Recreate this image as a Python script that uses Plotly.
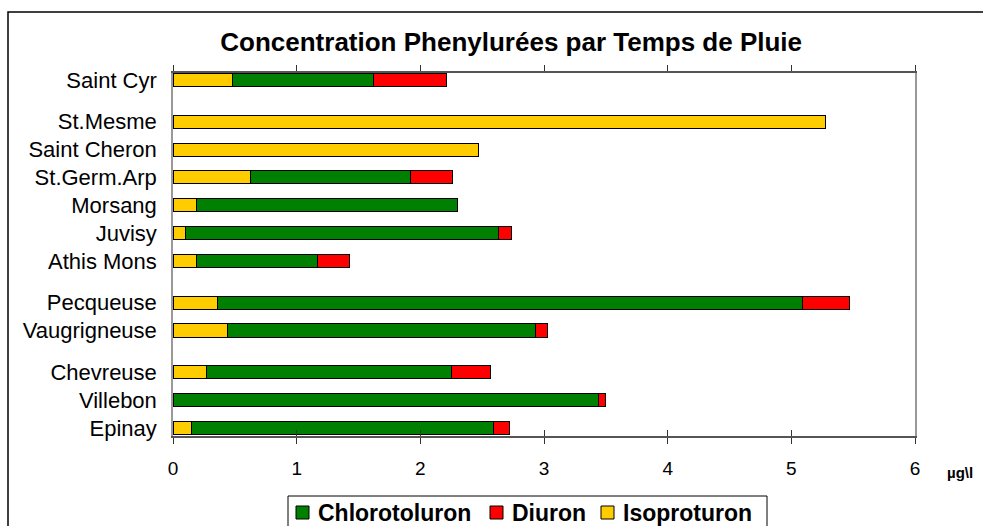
import plotly.graph_objects as go

# Data (groups from bottom to top; a half-gap separates groups)
groups = [
    ["Epinay", "Villebon", "Chevreuse"],
    ["Vaugrigneuse", "Pecqueuse"],
    ["Athis Mons", "Juvisy", "Morsang", "St.Germ.Arp", "Saint Cheron", "St.Mesme"],
    ["Saint Cyr"],
]
sites = [s for g in groups for s in g]

isoproturon = {
    "Epinay": 0.15, "Villebon": 0.0, "Chevreuse": 0.27,
    "Vaugrigneuse": 0.44, "Pecqueuse": 0.36,
    "Athis Mons": 0.19, "Juvisy": 0.10, "Morsang": 0.19, "St.Germ.Arp": 0.63,
    "Saint Cheron": 2.47, "St.Mesme": 5.28, "Saint Cyr": 0.48,
}
chlorotoluron = {
    "Epinay": 2.44, "Villebon": 3.44, "Chevreuse": 1.98,
    "Vaugrigneuse": 2.49, "Pecqueuse": 4.73,
    "Athis Mons": 0.98, "Juvisy": 2.53, "Morsang": 2.11, "St.Germ.Arp": 1.29,
    "Saint Cheron": 0.0, "St.Mesme": 0.0, "Saint Cyr": 1.145,
}
diuron = {
    "Epinay": 0.13, "Villebon": 0.06, "Chevreuse": 0.32,
    "Vaugrigneuse": 0.10, "Pecqueuse": 0.38,
    "Athis Mons": 0.26, "Juvisy": 0.11, "Morsang": 0.0, "St.Germ.Arp": 0.34,
    "Saint Cheron": 0.0, "St.Mesme": 0.0, "Saint Cyr": 0.585,
}
x_ticks = [0, 1, 2, 3, 4, 5, 6]
legend_order = ["Chlorotoluron", "Diuron", "Isoproturon"]

# category positions with half-unit gaps between groups
ypos = []
p = 0.0
for gi, g in enumerate(groups):
    if gi > 0:
        p += 0.5
    for s in g:
        ypos.append(p)
        p += 1.0

FONT = "Arial, Liberation Sans, sans-serif"
W, H = 983, 526
ML, MR, MT, MB = 173, 68, 73, 90
PW, PH = W - ML - MR, H - MT - MB


def px(xp):
    return (xp - ML) / PW


def py(yp):
    return (H - MB - yp) / PH


fig = go.Figure()
series = [
    ("Isoproturon", isoproturon, "#FFCC00"),
    ("Chlorotoluron", chlorotoluron, "#008000"),
    ("Diuron", diuron, "#FF0000"),
]
colors = {}
for name, d, col in series:
    colors[name] = col
    fig.add_trace(go.Bar(
        y=ypos, x=[d[s] for s in sites], name=name, orientation="h",
        marker=dict(color=col, line=dict(color="black", width=1)),
        width=0.47, showlegend=False,
    ))

# invisible helper trace on a second x axis to draw ticks crossing the bottom axis
fig.add_trace(go.Scatter(x=[0], y=[0], xaxis="x2", mode="markers",
                         marker=dict(opacity=0), showlegend=False, hoverinfo="skip"))

fig.update_layout(
    barmode="stack",
    width=W, height=H,
    margin=dict(l=ML, r=MR, t=MT, b=MB),
    plot_bgcolor="white", paper_bgcolor="white",
    font=dict(family=FONT, size=18, color="black"),
    title=dict(text="<b>Concentration Phenylurées par Temps de Pluie</b>",
               x=0.52, xanchor="center", y=0.92, yanchor="middle",
               font=dict(size=26, family=FONT)),
    xaxis=dict(range=[0, 6], tickvals=x_ticks, showgrid=False, zeroline=False,
               showline=True, linecolor="#555555", linewidth=1.5, mirror="allticks",
               ticks="outside", ticklen=6, tickcolor="#333333",
               tickfont=dict(size=19), ticklabelstandoff=8),
    xaxis2=dict(range=[0, 6], tickvals=x_ticks, overlaying="x", side="bottom",
                showgrid=False, zeroline=False, showline=False, ticks="inside",
                ticklen=6, tickcolor="#333333", showticklabels=False),
    yaxis=dict(range=[-0.29, 12.75], tickvals=ypos, ticktext=sites,
               showgrid=False, zeroline=False, showline=True, linecolor="#999999",
               linewidth=1.5, mirror=True, ticks="", ticklabelstandoff=10,
               tickfont=dict(size=22)),
    showlegend=False,
)

fig.add_annotation(text="<b>µg\\l</b>", xref="paper", yref="paper",
                   x=px(960), y=py(472), xanchor="center",
                   yanchor="middle", showarrow=False, font=dict(size=15, family=FONT))
# outer chart frame
fig.add_shape(type="rect", xref="paper", yref="paper",
              x0=px(8), y0=py(560), x1=px(1010), y1=py(12),
              line=dict(color="black", width=1.5), layer="below")

# legend box (drawn manually, cut by the bottom edge as in the reference)
fig.add_shape(type="rect", xref="paper", yref="paper",
              x0=px(288), y0=py(540), x1=px(767), y1=py(496),
              line=dict(color="black", width=1), fillcolor="white", layer="below")
sq_left = {"Chlorotoluron": 296, "Diuron": 490, "Isoproturon": 601}
for name in legend_order:
    x0 = sq_left[name]
    fig.add_shape(type="rect", xref="paper", yref="paper",
                  x0=px(x0), y0=py(519), x1=px(x0 + 13), y1=py(506),
                  line=dict(color="black", width=1), fillcolor=colors[name])
    fig.add_annotation(text="<b>" + name + "</b>", xref="paper", yref="paper",
                       x=px(x0 + 20), y=py(512.5), xanchor="left", yanchor="middle",
                       showarrow=False, font=dict(size=23, family=FONT))

fig.write_html("out.html", post_script="document.body.style.margin='0';",
               config={"displayModeBar": False})
